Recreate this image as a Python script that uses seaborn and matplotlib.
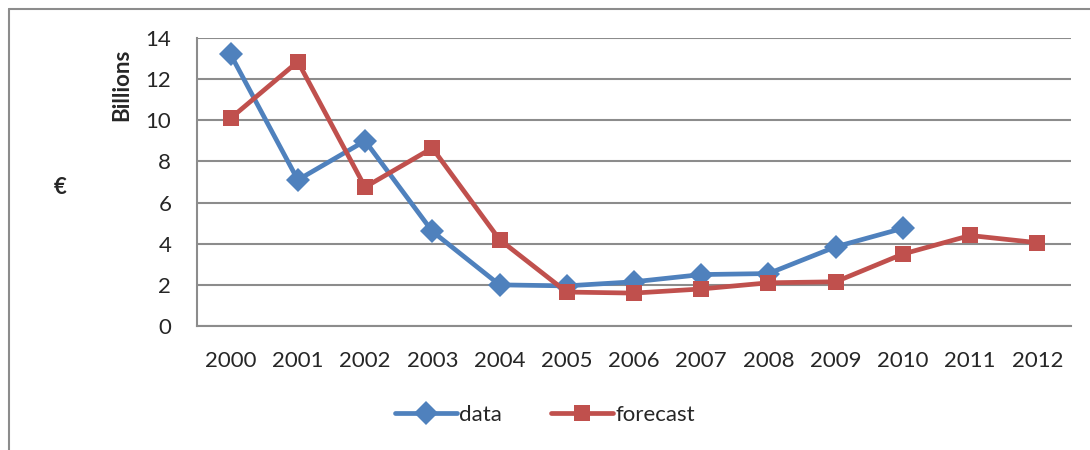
import matplotlib
matplotlib.use("Agg")
import matplotlib.pyplot as plt
import seaborn as sns
import pandas as pd
from matplotlib.lines import Line2D

# values
years = [2000, 2001, 2002, 2003, 2004, 2005, 2006, 2007, 2008, 2009, 2010, 2011, 2012]
data_vals = [13.2, 7.1, 9.0, 4.6, 2.0, 1.95, 2.15, 2.5, 2.55, 3.85, 4.75]
forecast_vals = [10.1, 12.85, 6.75, 8.65, 4.2, 1.65, 1.6, 1.8, 2.1, 2.15, 3.5, 4.4, 4.05]
y_ticks = [0, 2, 4, 6, 8, 10, 12, 14]

df = pd.concat([
    pd.DataFrame({"year": years[:len(data_vals)], "value": data_vals, "series": "data"}),
    pd.DataFrame({"year": years, "value": forecast_vals, "series": "forecast"}),
])

sns.set_theme(style="white")
plt.rcParams["font.family"] = ["Lato", "DejaVu Sans"]

blue = "#4F81BD"
red = "#C0504D"
grid_c = "#8c8c8c"
fs = 16

fig = plt.figure(figsize=(10.9, 4.5), dpi=100)
ax = fig.add_axes([197 / 1090, 1 - 326 / 450, (1071 - 197) / 1090, (326 - 38) / 450])

sns.lineplot(data=df, x="year", y="value", hue="series", style="series",
             palette={"data": blue, "forecast": red},
             markers={"data": "D", "forecast": "s"}, dashes=False,
             linewidth=3.4, markersize=12, markeredgewidth=0,
             legend=False, ax=ax)

ax.set_xlim(years[0] - 0.5, years[-1] + 0.5)
ax.set_ylim(0, 14)
ax.set_yticks(y_ticks)
ax.set_yticklabels([str(t) for t in y_ticks], fontsize=fs)
ax.set_xticks(years)
ax.set_xticklabels([str(y) for y in years], fontsize=fs)
ax.set_xticks([y - 0.5 for y in years] + [years[-1] + 0.5], minor=True)
ax.tick_params(axis="x", which="major", length=0, pad=18)
ax.tick_params(axis="x", which="minor", length=6, width=1.5, color=grid_c, direction="out")
ax.tick_params(axis="y", length=6.5, width=1.5, color=grid_c, direction="out", pad=12)
ax.set_xlabel("")
ax.set_ylabel("")
ax.yaxis.grid(True, color=grid_c, linewidth=1.5)
ax.set_axisbelow(True)
for side in ["top", "right"]:
    ax.spines[side].set_visible(False)
for side in ["left", "bottom"]:
    ax.spines[side].set_color(grid_c)
    ax.spines[side].set_linewidth(1.5)

fig.text(122 / 1090, 1 - 85 / 450, "Billions", rotation=90, fontsize=fs,
         fontweight="bold", ha="center", va="center")
fig.text(60 / 1090, 1 - 187 / 450, "€", fontsize=fs, fontweight="bold",
         ha="center", va="center")

handles = [
    Line2D([], [], color=blue, marker="D", linewidth=3.4, markersize=12, markeredgewidth=0),
    Line2D([], [], color=red, marker="s", linewidth=3.4, markersize=12, markeredgewidth=0),
]
fig.legend(handles, ["data", "forecast"], loc="center", bbox_to_anchor=(0.5, 1 - 415 / 450),
           ncol=2, frameon=False, fontsize=fs, handlelength=2.8, handletextpad=0.1,
           columnspacing=2.2)

# outer chart frame (left and top edges visible)
fig.add_artist(Line2D([9 / 1090, 9 / 1090], [0, 1 - 9 / 450], transform=fig.transFigure,
                      color=grid_c, linewidth=1.5))
fig.add_artist(Line2D([9 / 1090, 1], [1 - 9 / 450, 1 - 9 / 450], transform=fig.transFigure,
                      color=grid_c, linewidth=1.5))

fig.savefig("out.png", dpi=100)
